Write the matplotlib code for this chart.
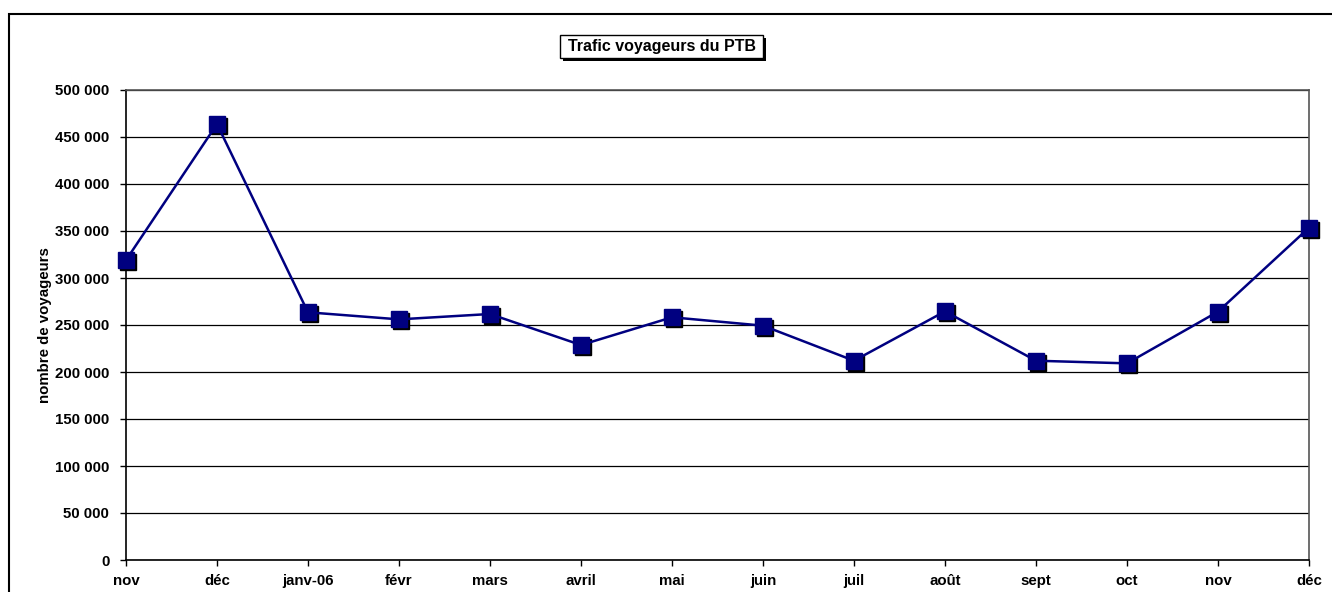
import matplotlib
matplotlib.use("Agg")
import matplotlib.pyplot as plt
from matplotlib.patches import Rectangle
from matplotlib.ticker import FuncFormatter, MultipleLocator
from matplotlib.transforms import offset_copy

plt.rcParams['font.family'] = ['Liberation Sans', 'DejaVu Sans']
plt.rcParams['font.weight'] = 'bold'

# monthly passenger traffic
months = ['nov', 'déc', 'janv-06', 'févr', 'mars', 'avril', 'mai', 'juin',
          'juil', 'août', 'sept', 'oct', 'nov', 'déc']
voyageurs = [319000, 463800, 263500, 256000, 261700, 228700, 258200, 249300,
             212000, 264500, 212000, 209200, 264200, 353500]

W, H = 1332, 592
fig = plt.figure(figsize=(W / 100, H / 100), dpi=100)
ax = fig.add_axes([126 / W, 1 - 560 / H, (1309 - 126) / W, (560 - 90) / H])

x = list(range(len(months)))
navy = '#000080'

# marker shadow
shadow = offset_copy(ax.transData, fig=fig, x=2, y=-2, units='dots')
ax.plot(x, voyageurs, ls='none', marker='s', ms=11, color='black',
        transform=shadow, clip_on=False, zorder=3)
ax.plot(x, voyageurs, color=navy, lw=1.8, marker='s', ms=11,
        mfc=navy, mec=navy, clip_on=False, zorder=4)

ax.set_xlim(0, len(months) - 1)
ax.set_ylim(0, 500000)
ax.yaxis.set_major_locator(MultipleLocator(50000))
ax.yaxis.set_major_formatter(FuncFormatter(lambda v, p: f"{int(v):,}".replace(",", " ")))
ax.set_xticks(x)
ax.set_xticklabels(months)
ax.grid(axis='y', color='black', lw=0.9)
ax.set_axisbelow(True)

ax.tick_params(axis='both', labelsize=10.8, length=4, width=1, color='black')
ax.tick_params(axis='y', pad=8)
ax.tick_params(axis='x', pad=6)
for s in ['left', 'bottom']:
    ax.spines[s].set_color('black')
    ax.spines[s].set_linewidth(1.2)
for s in ['top', 'right']:
    ax.spines[s].set_color('#555555')
    ax.spines[s].set_linewidth(1.2)

ax.set_ylabel('nombre de voyageurs', fontsize=10.8, fontweight='bold', labelpad=2)

# outer chart frame
fig.add_artist(Rectangle((9 / W, -0.1), 1.2, 1 - 14 / H + 0.1, transform=fig.transFigure,
                         fill=False, ec='black', lw=1.5))

# title box with shadow
bx0, bx1, by0, by1 = 560, 763, 35, 58
fig.add_artist(Rectangle(((bx0 + 3) / W, 1 - (by1 + 3) / H), (bx1 - bx0) / W, (by1 - by0) / H,
                         transform=fig.transFigure, fc='black', ec='black', lw=0))
fig.add_artist(Rectangle((bx0 / W, 1 - by1 / H), (bx1 - bx0) / W, (by1 - by0) / H,
                         transform=fig.transFigure, fc='white', ec='black', lw=1))
fig.text((bx0 + bx1) / 2 / W, 1 - (by0 + by1) / 2 / H, 'Trafic voyageurs du PTB',
         ha='center', va='center', fontsize=11.5, fontweight='bold')

fig.savefig('out.png', dpi=100)
